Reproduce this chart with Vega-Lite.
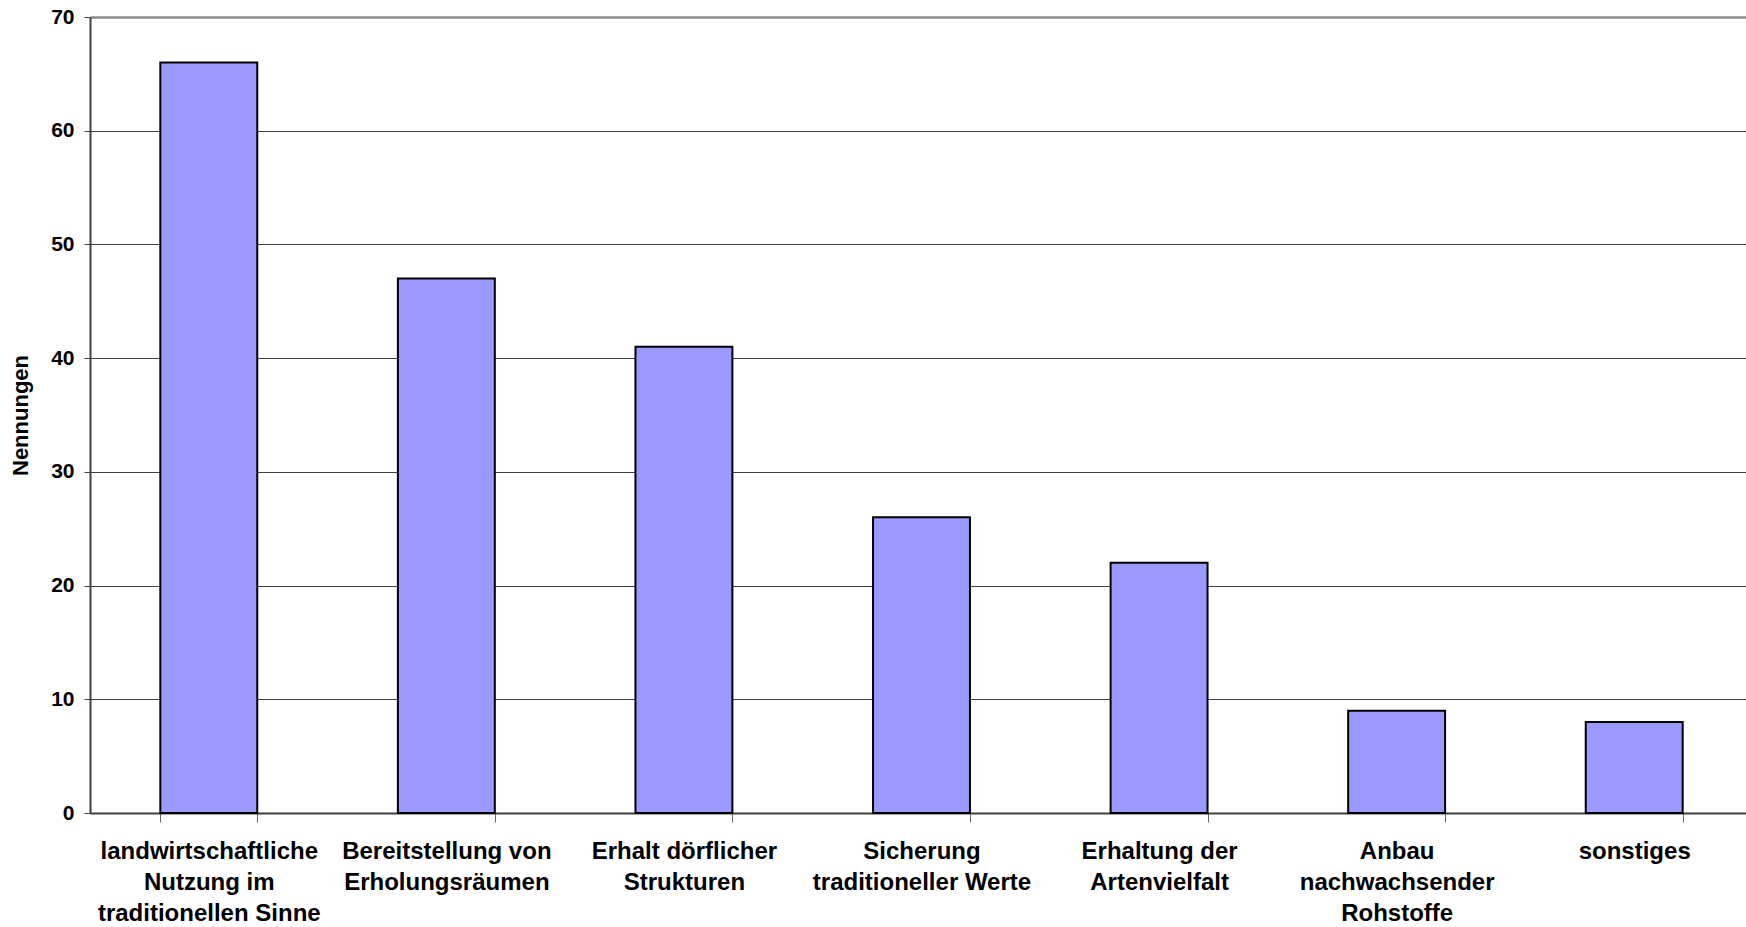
{
  "$schema": "https://vega.github.io/schema/vega-lite/v6.json",
  "width": 1656,
  "height": 796,
  "autosize": {"type": "none"},
  "padding": {"left": 90, "top": 17, "right": 0, "bottom": 114},
  "background": "white",
  "config": {
    "font": "Liberation Sans",
    "view": {"stroke": null}
  },
  "data": {
    "values": [
      {"kategorie": "landwirtschaftliche|Nutzung im|traditionellen Sinne", "nennungen": 66},
      {"kategorie": "Bereitstellung von|Erholungsräumen", "nennungen": 47},
      {"kategorie": "Erhalt dörflicher|Strukturen", "nennungen": 41},
      {"kategorie": "Sicherung|traditioneller Werte", "nennungen": 26},
      {"kategorie": "Erhaltung der|Artenvielfalt", "nennungen": 22},
      {"kategorie": "Anbau|nachwachsender|Rohstoffe", "nennungen": 9},
      {"kategorie": "sonstiges", "nennungen": 8}
    ]
  },
  "mark": {"type": "bar", "fill": "#9999FF", "stroke": "#000000", "strokeWidth": 2},
  "encoding": {
    "x": {
      "field": "kategorie",
      "type": "nominal",
      "sort": null,
      "scale": {"range": [0, 1663], "paddingInner": 0.592, "paddingOuter": 0.296},
      "axis": {
        "title": null,
        "labelAngle": 0,
        "labelExpr": "split(datum.label, '|')",
        "labelFont": "Liberation Sans",
        "labelFontWeight": "bold",
        "labelFontSize": 24,
        "labelColor": "#000000",
        "labelLineHeight": 31,
        "labelPadding": 17,
        "labelLimit": 300,
        "tickBand": "extent",
        "tickSize": 9,
        "tickColor": "#666666",
        "domainColor": "#404040",
        "domainWidth": 2,
        "grid": false
      }
    },
    "y": {
      "field": "nennungen",
      "type": "quantitative",
      "scale": {"domain": [0, 70], "nice": false},
      "axis": {
        "title": "Nennungen",
        "titleFont": "Liberation Sans",
        "titleFontWeight": "bold",
        "titleFontSize": 22,
        "titleColor": "#000000",
        "titlePadding": 18,
        "values": [0, 10, 20, 30, 40, 50, 60, 70],
        "labelFont": "Liberation Sans",
        "labelFontWeight": "bold",
        "labelFontSize": 21,
        "labelColor": "#000000",
        "labelPadding": 10,
        "tickSize": 6,
        "tickColor": "#404040",
        "domainColor": "#404040",
        "domainWidth": 2,
        "grid": true,
        "gridColor": {"condition": {"test": "datum.value === 70", "value": "#8c8c8c"}, "value": "#404040"},
        "gridWidth": {"condition": {"test": "datum.value === 70", "value": 2.5}, "value": 1},
        "gridOpacity": 1
      }
    }
  }
}
